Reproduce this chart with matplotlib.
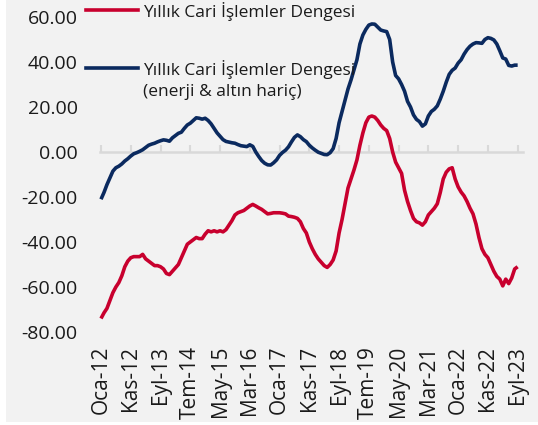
import matplotlib
matplotlib.use("Agg")
import matplotlib.pyplot as plt
from matplotlib.lines import Line2D
from matplotlib.patches import Rectangle
import numpy as np

plt.rcParams['font.family'] = ['Open Sans', 'DejaVu Sans']

# Monthly data, Oca-12 (Jan 2012) .. Eyl-23 (Sep 2023)
cari = [
    -74, -71.5, -69.5, -66, -62.5, -60, -58, -55, -51, -48.5,
    -47, -46.5, -46.5, -46.5, -45.5, -47.5, -48.5, -49.5, -50.5, -50.5,
    -51, -52, -54, -54.5, -53, -51.5, -50, -47, -44, -41,
    -40, -39, -38, -38.5, -38.5, -36.5, -35, -35.5, -35, -35.5,
    -35, -35.5, -34.5, -32.5, -30.5, -28, -27, -26.5, -26, -25,
    -24, -23.3, -24, -24.8, -25.5, -26.5, -27.5, -27.3, -27, -27,
    -27, -27.2, -27.5, -28.5, -28.7, -29, -29.5, -31, -34, -36,
    -40, -43, -45.5, -47.5, -49, -50.5, -51.3, -50, -48, -44,
    -36, -30, -23, -16, -12, -8, -3.5, 3, 8.5, 13,
    15.5, 16, 15.5, 14, 12, 10.5, 9.5, 6, 0, -4.5,
    -7, -9.5, -17, -22, -26, -29.5, -31, -31.5, -32.5, -31,
    -28, -26.5, -25, -23, -18, -12, -9, -7.5, -7, -12,
    -15.5, -17.8, -19.5, -22, -25, -27.5, -32, -38, -43, -45.5,
    -47, -50, -53, -55.3, -56.5, -59.5, -56.5, -58.5, -56, -52,
    -51,
]
cari_core = [
    -21, -18, -14.5, -11.5, -8.5, -7, -6.3, -5.3, -4, -3,
    -1.8, -0.8, -0.3, 0.3, 1, 2, 3, 3.5, 3.9, 4.5,
    5, 5.4, 5.2, 4.8, 6.3, 7.3, 8.3, 8.8, 10.5, 12,
    12.8, 14, 15.2, 15, 14.6, 15, 14, 12.5, 10.5, 8.5,
    7, 5.5, 4.7, 4.4, 4.1, 3.9, 3.3, 2.8, 2.6, 2.4,
    3.2, 2.5, 0, -2, -3.8, -5, -5.7, -5.8, -4.8, -3.5,
    -1.5, -0.2, 0.8, 2.3, 4.5, 6.5, 7.6, 6.8, 5.5, 4.6,
    3, 1.8, 0.8, -0.1, -0.6, -1.1, -1.2, -0.3, 1.5, 6,
    13, 18, 23, 28, 32, 36.5, 41, 48, 52, 54.5,
    56.4, 56.9, 56.8, 55.5, 54.2, 53.8, 53.5, 50, 40, 34,
    32.5, 30, 27, 22.5, 20, 16.5, 14.5, 13.5, 11.5, 12.5,
    16, 18, 19, 20.5, 23.5, 27, 31, 34.5, 36.3, 37.3,
    39.5, 41, 43.5, 45.5, 47, 48, 48.6, 48.5, 48.3, 50,
    50.8, 50.5, 49.8, 48, 45, 41.8, 41.3, 38.5, 38.2, 38.6,
    38.6,
]
tick_labels = ["Oca-12", "Kas-12", "Eyl-13", "Tem-14", "May-15", "Mar-16",
               "Oca-17", "Kas-17", "Eyl-18", "Tem-19", "May-20", "Mar-21",
               "Oca-22", "Kas-22", "Eyl-23"]
label_red = "Yıllık Cari İşlemler Dengesi"
label_blue = "Yıllık Cari İşlemler Dengesi\n(enerji & altın hariç)"

RED = "#C8002E"
BLUE = "#0B2A5F"
GRID = "#D9D9D9"
BG = "#F2F2F2"

W, H = 538, 425
fig = plt.figure(figsize=(W / 100, H / 100), dpi=100, facecolor="white")
fig.add_artist(Rectangle((6 / W, 3 / H), 1 - 6 / W, 1 - 3 / H,
                         transform=fig.transFigure, facecolor=BG,
                         edgecolor="none", zorder=-10))

ax_l, ax_r = 100, 523
ax_top, ax_bot = 17, 332
ax = fig.add_axes([ax_l / W, (H - ax_bot) / H, (ax_r - ax_l) / W, (ax_bot - ax_top) / H])
ax.set_facecolor("none")

x = np.arange(len(cari))
ax.plot(x, cari_core, color=BLUE, lw=2.6, solid_capstyle="butt", zorder=3, clip_on=False)
ax.plot(x, cari, color=RED, lw=2.6, solid_capstyle="butt", zorder=3, clip_on=False)

ax.set_ylim(-80, 60)
ax.set_xlim(-0.336, 141.8)
ax.set_yticks(np.arange(-80, 61, 20))
ax.set_yticklabels([f"{v:.2f}" for v in np.arange(-80, 61, 20)])
ticks = np.arange(0, len(cari), 10)
ax.set_xticks(ticks)
ax.set_xticklabels(tick_labels, rotation=90)
for s in ax.spines.values():
    s.set_visible(False)
ax.tick_params(axis="y", length=0, pad=16, labelsize=14, labelcolor="#1a1a1a")
ax.tick_params(axis="x", length=0, pad=10, labelsize=15, labelcolor="#1a1a1a")

# zero axis line with tick marks
zero_loc = (0 - (-80)) / 140
sec = ax.secondary_xaxis(zero_loc)
sec.set_xticks(ticks)
sec.set_xticklabels([])
sec.tick_params(axis="x", direction="out", length=5, width=1.5, color=GRID)
for k, s in sec.spines.items():
    s.set_visible(k == "bottom")
sec.spines["bottom"].set_color(GRID)
sec.spines["bottom"].set_linewidth(1.8)
sec.set_zorder(1)
ax.set_zorder(2)

# manual legend (Excel style)
def px(xp, yp):
    return xp / W, 1 - yp / H

for (yline, color, text) in [(10, RED, label_red), (68, BLUE, label_blue)]:
    x0, y0 = px(86, yline)
    x1, _ = px(138, yline)
    fig.add_artist(Line2D([x0, x1], [y0, y0], transform=fig.transFigure,
                          color=color, lw=2.6))
    tx, ty = px(143, yline - 8)
    fig.text(tx, ty, text, ha="left", va="top", fontsize=12.5,
             color="#1a1a1a", linespacing=1.45)

fig.savefig("out.png", dpi=100, facecolor=fig.get_facecolor())
